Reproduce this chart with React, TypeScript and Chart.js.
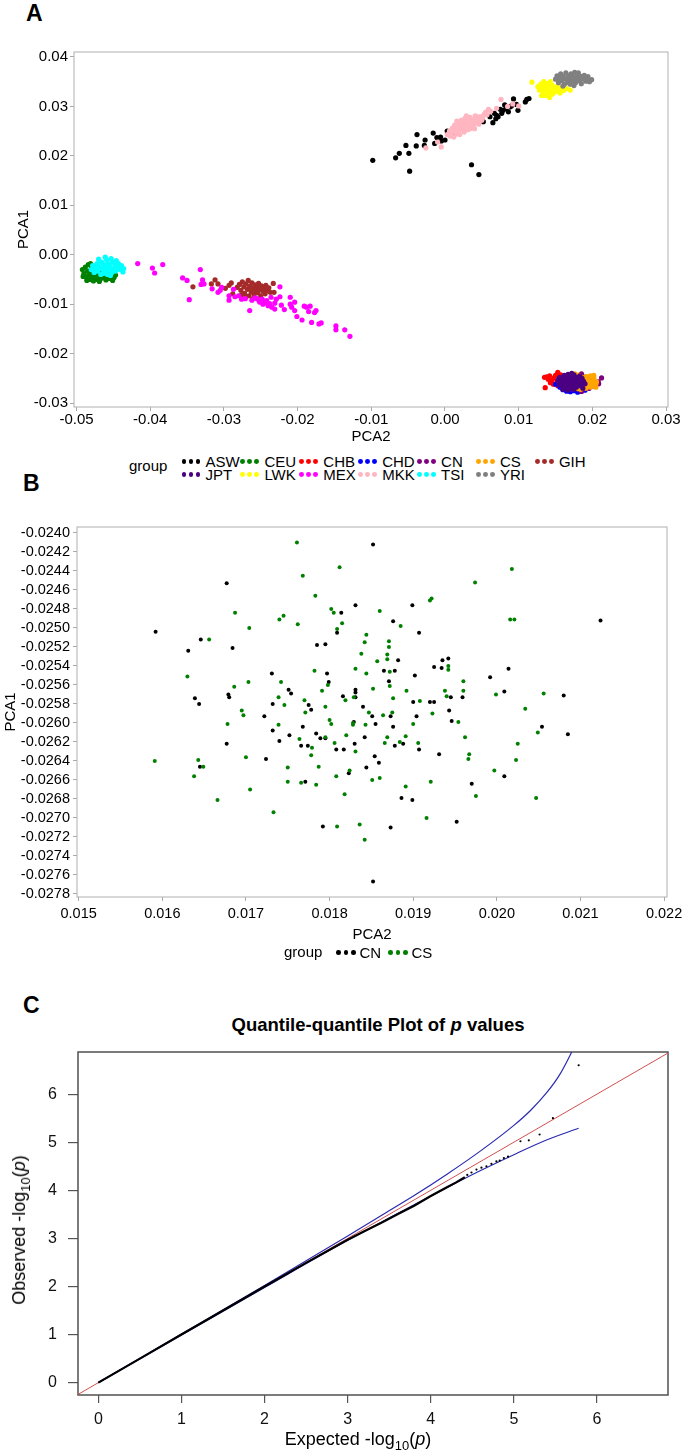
import React, { useEffect, useRef } from 'react';
import { Chart, registerables } from 'chart.js';

Chart.register(...registerables);

const FONT = '"Liberation Sans", Arial, Helvetica, sans-serif';

type Pt = [number, number];

// ---------------- Panel A : PCA of all populations ----------------
const aXTicks = [-0.05, -0.04, -0.03, -0.02, -0.01, 0, 0.01, 0.02, 0.03];
const aYTicks = [-0.03, -0.02, -0.01, 0, 0.01, 0.02, 0.03, 0.04];
const aGroups = ['ASW', 'CEU', 'CHB', 'CHD', 'CN', 'CS', 'GIH', 'JPT', 'LWK', 'MEX', 'MKK', 'TSI', 'YRI'];
const aColors = ['#000000', '#008000', '#ff0000', '#0000ff', '#800080', '#ffa500', '#a52a2a', '#4b0082', '#ffff00', '#ff00ff', '#ffb6c1', '#00ffff', '#808080'];

const aswPts: Pt[] = [
  [-0.0098, 0.0191], [-0.0067, 0.0196], [-0.0062, 0.0205], [-0.0049, 0.0205], [-0.0048, 0.0169], [-0.0053, 0.0221],
  [-0.0039, 0.0220], [-0.0038, 0.0243], [-0.0027, 0.0232], [-0.0028, 0.0221], [-0.0016, 0.0246], [-0.0014, 0.0225],
  [-0.0011, 0.0237], [-0.0006, 0.0238], [0.0000, 0.0232], [-0.0005, 0.0230], [0.0003, 0.0250], [0.0005, 0.0245],
  [0.0036, 0.0182], [0.0046, 0.0162], [0.0011, 0.0242], [0.0052, 0.0269], [0.0065, 0.0267], [0.0067, 0.0286],
  [0.0072, 0.0279], [0.0077, 0.0286], [0.0079, 0.0292], [0.0081, 0.0303], [0.0086, 0.0289], [0.0088, 0.0299],
  [0.0093, 0.0315], [0.0097, 0.0304], [0.0099, 0.0292], [0.0109, 0.0309], [0.0111, 0.0314], [0.0114, 0.0316],
  [0.0070, 0.0282], [0.0075, 0.0294], [0.0061, 0.0279], [0.0083, 0.0296], [0.0090, 0.0301], [0.0069, 0.0275],
];
const ceuPts: Pt[] = [
  [-0.0492, -0.0030], [-0.0490, -0.0038], [-0.0488, -0.0025], [-0.0487, -0.0045], [-0.0485, -0.0033], [-0.0484, -0.0020],
  [-0.0483, -0.0040], [-0.0482, -0.0050], [-0.0480, -0.0028], [-0.0479, -0.0035], [-0.0478, -0.0045], [-0.0476, -0.0023],
  [-0.0475, -0.0040], [-0.0474, -0.0050], [-0.0473, -0.0032], [-0.0471, -0.0044], [-0.0470, -0.0037], [-0.0468, -0.0049],
  [-0.0467, -0.0042], [-0.0465, -0.0035], [-0.0464, -0.0047], [-0.0462, -0.0040], [-0.0460, -0.0051], [-0.0459, -0.0044],
  [-0.0457, -0.0038], [-0.0455, -0.0048], [-0.0453, -0.0042], [-0.0451, -0.0052], [-0.0449, -0.0046], [-0.0447, -0.0041],
  [-0.0491, -0.0044], [-0.0486, -0.0052], [-0.0477, -0.0053], [-0.0469, -0.0054], [-0.0481, -0.0018], [-0.0463, -0.0030],
  [-0.0456, -0.0033],
];
const chbPts: Pt[] = [
  [0.0136, -0.0269], [0.0138, -0.0247], [0.0142, -0.0245], [0.0145, -0.0254], [0.0143, -0.0259], [0.0148, -0.0249],
  [0.0150, -0.0244], [0.0152, -0.0255], [0.0140, -0.0252], [0.0147, -0.0262], [0.0155, -0.0247], [0.0153, -0.0265],
  [0.0158, -0.0252], [0.0160, -0.0259], [0.0157, -0.0243], [0.0153, -0.0238], [0.0162, -0.0246], [0.0165, -0.0251],
  [0.0168, -0.0244], [0.0135, -0.0248],
];
const chdPts: Pt[] = [
  [0.0150, -0.0262], [0.0156, -0.0268], [0.0160, -0.0273], [0.0165, -0.0276], [0.0170, -0.0277], [0.0175, -0.0275],
  [0.0180, -0.0278], [0.0185, -0.0276], [0.0190, -0.0274], [0.0172, -0.0250], [0.0178, -0.0244], [0.0163, -0.0247],
  [0.0158, -0.0258], [0.0184, -0.0256], [0.0168, -0.0262], [0.0176, -0.0266], [0.0188, -0.0262], [0.0193, -0.0270],
  [0.0155, -0.0250], [0.0182, -0.0270],
];
// CN and CS are the same samples that are shown again in panel B
const cnPts: Pt[] = [
  [0.01852, -0.02412], [0.01677, -0.02453], [0.01831, -0.02476], [0.01814, -0.02484], [0.01899, -0.02476], [0.01876, -0.02493],
  [0.01907, -0.02505], [0.01809, -0.02505], [0.02124, -0.02492], [0.01592, -0.02504], [0.01646, -0.02512], [0.01631, -0.02524],
  [0.01684, -0.02521], [0.01785, -0.02518], [0.01795, -0.02517], [0.01882, -0.02534], [0.01935, -0.02534], [0.01942, -0.02532],
  [0.01925, -0.02541], [0.01934, -0.02542], [0.02014, -0.02543], [0.01731, -0.02548], [0.01797, -0.02548], [0.01865, -0.02545],
  [0.01878, -0.02545], [0.01902, -0.02550], [0.01992, -0.02552], [0.01871, -0.02556], [0.01799, -0.02557], [0.01751, -0.02565],
  [0.01754, -0.02569], [0.01831, -0.02565], [0.01831, -0.02568], [0.01831, -0.02573], [0.01816, -0.02572], [0.02009, -0.02567],
  [0.02080, -0.02571], [0.01639, -0.02574], [0.01644, -0.02580], [0.01679, -0.02570], [0.01680, -0.02573], [0.01732, -0.02580],
  [0.01775, -0.02581], [0.01778, -0.02586], [0.01840, -0.02583], [0.01900, -0.02578], [0.01920, -0.02578], [0.01925, -0.02578],
  [0.01945, -0.02573], [0.01959, -0.02573], [0.01943, -0.02587], [0.01946, -0.02598], [0.01722, -0.02593], [0.01851, -0.02593],
  [0.01855, -0.02601], [0.01873, -0.02593], [0.01904, -0.02593], [0.01876, -0.02604], [0.01768, -0.02604], [0.01829, -0.02599],
  [0.02054, -0.02604], [0.02085, -0.02612], [0.01732, -0.02608], [0.01752, -0.02613], [0.01784, -0.02611], [0.01789, -0.02616],
  [0.01795, -0.02616], [0.01842, -0.02615], [0.01740, -0.02619], [0.01677, -0.02622], [0.01766, -0.02624], [0.01774, -0.02624],
  [0.01808, -0.02628], [0.01817, -0.02628], [0.01830, -0.02622], [0.01878, -0.02624], [0.01888, -0.02622], [0.01907, -0.02628],
  [0.01931, -0.02633], [0.01854, -0.02635], [0.01724, -0.02638], [0.01645, -0.02646], [0.01771, -0.02662], [0.01823, -0.02653],
  [0.01844, -0.02647], [0.01859, -0.02642], [0.01970, -0.02664], [0.02009, -0.02656], [0.01886, -0.02679], [0.01899, -0.02681],
  [0.01792, -0.02709], [0.01873, -0.02710], [0.01952, -0.02704], [0.01852, -0.02767],
];
const csPts: Pt[] = [
  [0.01761, -0.02410], [0.01812, -0.02436], [0.02018, -0.02438], [0.01768, -0.02445], [0.01974, -0.02452], [0.01783, -0.02466],
  [0.01687, -0.02484], [0.01740, -0.02491], [0.01745, -0.02487], [0.01762, -0.02496], [0.01704, -0.02500], [0.01802, -0.02480],
  [0.01805, -0.02484], [0.01815, -0.02495], [0.01809, -0.02501], [0.01860, -0.02482], [0.01920, -0.02471], [0.01922, -0.02469],
  [0.01885, -0.02498], [0.01844, -0.02507], [0.01842, -0.02515], [0.02016, -0.02491], [0.02021, -0.02491], [0.01656, -0.02512],
  [0.01871, -0.02514], [0.01871, -0.02520], [0.01838, -0.02527], [0.01869, -0.02528], [0.01857, -0.02535], [0.01869, -0.02533],
  [0.01630, -0.02551], [0.01782, -0.02545], [0.01831, -0.02543], [0.01844, -0.02548], [0.01872, -0.02546], [0.01942, -0.02540],
  [0.01942, -0.02544], [0.01686, -0.02562], [0.01703, -0.02557], [0.01742, -0.02557], [0.01791, -0.02566], [0.01798, -0.02560],
  [0.01852, -0.02564], [0.01872, -0.02561], [0.01892, -0.02566], [0.01960, -0.02556], [0.01938, -0.02566], [0.01940, -0.02572],
  [0.01960, -0.02566], [0.01999, -0.02570], [0.02056, -0.02569], [0.01739, -0.02573], [0.01770, -0.02576], [0.01819, -0.02576],
  [0.01829, -0.02573], [0.01876, -0.02574], [0.01908, -0.02577], [0.01923, -0.02590], [0.02034, -0.02585], [0.01695, -0.02587],
  [0.01697, -0.02592], [0.01746, -0.02581], [0.01771, -0.02589], [0.01795, -0.02583], [0.01847, -0.02589], [0.01864, -0.02592],
  [0.01875, -0.02589], [0.01800, -0.02597], [0.01802, -0.02601], [0.01828, -0.02600], [0.01828, -0.02602], [0.01843, -0.02602],
  [0.01900, -0.02601], [0.01954, -0.02599], [0.01678, -0.02601], [0.01739, -0.02602], [0.02049, -0.02610], [0.01962, -0.02615],
  [0.01764, -0.02617], [0.01795, -0.02615], [0.01820, -0.02613], [0.01869, -0.02615], [0.01884, -0.02620], [0.01891, -0.02614],
  [0.01906, -0.02621], [0.01806, -0.02621], [0.01779, -0.02626], [0.01831, -0.02630], [0.01866, -0.02621], [0.02025, -0.02622],
  [0.01967, -0.02633], [0.02023, -0.02639], [0.01966, -0.02638], [0.01591, -0.02640], [0.01643, -0.02639], [0.01649, -0.02646],
  [0.01638, -0.02656], [0.01700, -0.02636], [0.01750, -0.02647], [0.01750, -0.02662], [0.01766, -0.02663], [0.01778, -0.02634],
  [0.01787, -0.02646], [0.01784, -0.02665], [0.01808, -0.02656], [0.01824, -0.02650], [0.01818, -0.02675], [0.01809, -0.02709],
  [0.01836, -0.02707], [0.01842, -0.02723], [0.01851, -0.02660], [0.01860, -0.02658], [0.01891, -0.02667], [0.01916, -0.02700],
  [0.01921, -0.02662], [0.01975, -0.02677], [0.01997, -0.02650], [0.02047, -0.02679], [0.01666, -0.02681], [0.01705, -0.02670],
  [0.01733, -0.02694],
];
const gihPts: Pt[] = [
  [-0.0282, -0.0066], [-0.0279, -0.0060], [-0.0277, -0.0072], [-0.0275, -0.0055], [-0.0273, -0.0065], [-0.0272, -0.0078],
  [-0.0270, -0.0059], [-0.0268, -0.0070], [-0.0267, -0.0052], [-0.0266, -0.0083], [-0.0265, -0.0064], [-0.0263, -0.0075],
  [-0.0262, -0.0057], [-0.0261, -0.0068], [-0.0259, -0.0080], [-0.0258, -0.0061], [-0.0257, -0.0072], [-0.0255, -0.0066],
  [-0.0254, -0.0077], [-0.0253, -0.0058], [-0.0251, -0.0070], [-0.0250, -0.0083], [-0.0249, -0.0063], [-0.0247, -0.0074],
  [-0.0246, -0.0068], [-0.0244, -0.0079], [-0.0243, -0.0062], [-0.0241, -0.0072], [-0.0239, -0.0067], [-0.0237, -0.0076],
  [-0.0260, -0.0088], [-0.0270, -0.0085], [-0.0276, -0.0081], [-0.0342, -0.0065], [-0.0317, -0.0059], [-0.0312, -0.0051],
  [-0.0308, -0.0059], [-0.0293, -0.0062], [-0.0233, -0.0058], [-0.0232, -0.0076], [-0.0288, -0.0079], [-0.0298, -0.0068],
  [-0.0290, -0.0057],
];
const jptPts: Pt[] = [
  [0.0153, -0.0255], [0.0155, -0.0262], [0.0156, -0.0248], [0.0158, -0.0256], [0.0159, -0.0266], [0.0160, -0.0251],
  [0.0161, -0.0260], [0.0162, -0.0244], [0.0163, -0.0255], [0.0164, -0.0268], [0.0165, -0.0249], [0.0166, -0.0259],
  [0.0167, -0.0242], [0.0168, -0.0264], [0.0169, -0.0253], [0.0170, -0.0270], [0.0171, -0.0247], [0.0172, -0.0258],
  [0.0173, -0.0265], [0.0174, -0.0251], [0.0175, -0.0243], [0.0176, -0.0261], [0.0177, -0.0255], [0.0178, -0.0268],
  [0.0179, -0.0248], [0.0180, -0.0259], [0.0181, -0.0253], [0.0182, -0.0265], [0.0183, -0.0245], [0.0184, -0.0257],
  [0.0185, -0.0262], [0.0186, -0.0250], [0.0187, -0.0270], [0.0188, -0.0256], [0.0190, -0.0261], [0.0167, -0.0274],
  [0.0175, -0.0272], [0.0160, -0.0272], [0.0172, -0.0240],
];
const lwkPts: Pt[] = [
  [0.0118, 0.0349], [0.0126, 0.0340], [0.0128, 0.0333], [0.0130, 0.0345], [0.0132, 0.0337], [0.0133, 0.0328],
  [0.0135, 0.0342], [0.0136, 0.0322], [0.0137, 0.0334], [0.0139, 0.0346], [0.0140, 0.0327], [0.0141, 0.0339],
  [0.0142, 0.0318], [0.0144, 0.0332], [0.0145, 0.0343], [0.0146, 0.0325], [0.0148, 0.0337], [0.0150, 0.0330],
  [0.0152, 0.0341], [0.0154, 0.0334], [0.0156, 0.0327], [0.0158, 0.0338], [0.0161, 0.0332], [0.0165, 0.0336],
  [0.0170, 0.0333], [0.0134, 0.0350], [0.0143, 0.0350], [0.0131, 0.0322],
];
const mexPts: Pt[] = [
  [-0.0417, -0.0018], [-0.0397, -0.0027], [-0.0394, -0.0037], [-0.0383, -0.0020], [-0.0356, -0.0047], [-0.0350, -0.0052],
  [-0.0347, -0.0091], [-0.0332, -0.0030], [-0.0329, -0.0051], [-0.0327, -0.0059], [-0.0331, -0.0060], [-0.0316, -0.0069],
  [-0.0308, -0.0076], [-0.0303, -0.0066], [-0.0293, -0.0083], [-0.0293, -0.0092], [-0.0285, -0.0085], [-0.0271, -0.0089],
  [-0.0265, -0.0113], [-0.0255, -0.0089], [-0.0251, -0.0096], [-0.0247, -0.0100], [-0.0240, -0.0103], [-0.0242, -0.0093],
  [-0.0235, -0.0106], [-0.0231, -0.0098], [-0.0231, -0.0110], [-0.0224, -0.0065], [-0.0224, -0.0085], [-0.0222, -0.0102],
  [-0.0218, -0.0111], [-0.0210, -0.0086], [-0.0210, -0.0100], [-0.0208, -0.0106], [-0.0204, -0.0096], [-0.0204, -0.0113],
  [-0.0201, -0.0125], [-0.0194, -0.0132], [-0.0191, -0.0104], [-0.0188, -0.0106], [-0.0185, -0.0115], [-0.0183, -0.0104],
  [-0.0181, -0.0137], [-0.0177, -0.0117], [-0.0175, -0.0113], [-0.0171, -0.0140], [-0.0168, -0.0138], [-0.0148, -0.0144],
  [-0.0148, -0.0152], [-0.0136, -0.0152], [-0.0129, -0.0165], [-0.0305, -0.0072], [-0.0287, -0.0070], [-0.0280, -0.0083],
  [-0.0276, -0.0090], [-0.0262, -0.0092], [-0.0258, -0.0087], [-0.0252, -0.0094], [-0.0248, -0.0090], [-0.0244, -0.0097],
  [-0.0238, -0.0099], [-0.0236, -0.0086], [-0.0229, -0.0090],
];
const mkkPts: Pt[] = [
  [0.0003, 0.0243], [0.0006, 0.0250], [0.0008, 0.0245], [0.0010, 0.0256], [0.0011, 0.0249], [0.0013, 0.0262],
  [0.0014, 0.0253], [0.0015, 0.0244], [0.0017, 0.0258], [0.0018, 0.0267], [0.0019, 0.0250], [0.0021, 0.0262],
  [0.0022, 0.0272], [0.0023, 0.0255], [0.0025, 0.0266], [0.0026, 0.0248], [0.0027, 0.0276], [0.0028, 0.0259],
  [0.0030, 0.0270], [0.0031, 0.0253], [0.0032, 0.0263], [0.0034, 0.0278], [0.0035, 0.0258], [0.0036, 0.0268],
  [0.0038, 0.0273], [0.0039, 0.0262], [0.0041, 0.0281], [0.0042, 0.0267], [0.0044, 0.0275], [0.0046, 0.0264],
  [0.0048, 0.0279], [0.0050, 0.0272], [0.0053, 0.0284], [0.0016, 0.0270], [0.0029, 0.0281], [0.0020, 0.0243],
  [0.0012, 0.0238], [0.0040, 0.0255], [-0.0026, 0.0216], [-0.0005, 0.0218], [0.0076, 0.0314], [0.0059, 0.0294],
  [0.0100, 0.0301], [0.0085, 0.0300], [0.0062, 0.0290], [0.0070, 0.0296], [-0.0010, 0.0228], [0.0092, 0.0305],
  [0.0009, 0.0252], [0.0016, 0.0247], [0.0020, 0.0256], [0.0024, 0.0260], [0.0027, 0.0252], [0.0029, 0.0265],
  [0.0033, 0.0272], [0.0037, 0.0262], [0.0043, 0.0271], [0.0045, 0.0279], [0.0051, 0.0277], [0.0055, 0.0288],
  [0.0034, 0.0255], [0.0024, 0.0270], [0.0019, 0.0264], [0.0047, 0.0270], [0.0057, 0.0283], [0.0007, 0.0240],
];
const tsiPts: Pt[] = [
  [-0.0480, -0.0030], [-0.0478, -0.0022], [-0.0476, -0.0036], [-0.0474, -0.0027], [-0.0472, -0.0018], [-0.0471, -0.0033],
  [-0.0469, -0.0024], [-0.0467, -0.0040], [-0.0466, -0.0015], [-0.0465, -0.0029], [-0.0463, -0.0020], [-0.0462, -0.0035],
  [-0.0460, -0.0026], [-0.0459, -0.0011], [-0.0458, -0.0040], [-0.0457, -0.0018], [-0.0456, -0.0031], [-0.0455, -0.0023],
  [-0.0453, -0.0008], [-0.0452, -0.0036], [-0.0451, -0.0015], [-0.0450, -0.0028], [-0.0448, -0.0020], [-0.0447, -0.0033],
  [-0.0446, -0.0012], [-0.0445, -0.0025], [-0.0443, -0.0018], [-0.0441, -0.0030], [-0.0439, -0.0022], [-0.0437, -0.0035],
  [-0.0436, -0.0028], [-0.0470, -0.0009], [-0.0461, -0.0005], [-0.0454, -0.0042], [-0.0464, -0.0038],
];
const yriPts: Pt[] = [
  [0.0150, 0.0355], [0.0152, 0.0362], [0.0154, 0.0348], [0.0155, 0.0358], [0.0157, 0.0366], [0.0158, 0.0352],
  [0.0160, 0.0361], [0.0162, 0.0345], [0.0163, 0.0356], [0.0164, 0.0368], [0.0166, 0.0350], [0.0167, 0.0362],
  [0.0169, 0.0356], [0.0170, 0.0345], [0.0171, 0.0366], [0.0173, 0.0352], [0.0174, 0.0360], [0.0176, 0.0369],
  [0.0177, 0.0348], [0.0178, 0.0357], [0.0180, 0.0364], [0.0182, 0.0352], [0.0183, 0.0360], [0.0185, 0.0346],
  [0.0187, 0.0356], [0.0189, 0.0363], [0.0191, 0.0351], [0.0193, 0.0357], [0.0196, 0.0350], [0.0199, 0.0354],
  [0.0160, 0.0341], [0.0175, 0.0342], [0.0165, 0.0357], [0.0172, 0.0364], [0.0179, 0.0352], [0.0186, 0.0361],
  [0.0168, 0.0348], [0.0158, 0.0359], [0.0181, 0.0368], [0.0194, 0.0360],
];
const aSeries = [aswPts, ceuPts, chbPts, chdPts, cnPts, csPts, gihPts, jptPts, lwkPts, mexPts, mkkPts, tsiPts, yriPts];

// ---------------- Panel B : CN vs CS ----------------
const bXTicks = [0.015, 0.016, 0.017, 0.018, 0.019, 0.02, 0.021, 0.022];
const bYTicks = [-0.0278, -0.0276, -0.0274, -0.0272, -0.027, -0.0268, -0.0266, -0.0264, -0.0262, -0.026,
  -0.0258, -0.0256, -0.0254, -0.0252, -0.025, -0.0248, -0.0246, -0.0244, -0.0242, -0.024];
const bGroups = ['CN', 'CS'];
const bColors = ['#000000', '#008000'];
const bSeries = [cnPts, csPts];

// ---------------- Panel C : QQ plot ----------------
const cTicks = [0, 1, 2, 3, 4, 5, 6];
const qqRefX = [-0.3, 7];
const qqRefY = [-0.3, 7];
const qqUpperX = [0, 1, 2, 3, 3.4, 3.8, 4.2, 4.6, 5.0, 5.2, 5.4, 5.55, 5.68, 5.75];
const qqUpperY = [0, 1.01, 2.02, 3.05, 3.47, 3.89, 4.34, 4.82, 5.35, 5.66, 6.04, 6.4, 6.82, 7.08];
const qqLowerX = [0, 1, 2, 3, 3.4, 3.8, 4.2, 4.6, 5.0, 5.4, 5.78];
const qqLowerY = [0, 0.99, 1.98, 2.96, 3.33, 3.7, 4.06, 4.41, 4.74, 5.05, 5.29];
const qqObsX = [0, 0.5, 1, 1.5, 2, 2.5, 3, 3.2, 3.4, 3.6, 3.8, 4.0, 4.2, 4.3, 4.41];
const qqObsY = [0, 0.5, 1, 1.5, 2, 2.49, 2.97, 3.15, 3.32, 3.5, 3.68, 3.88, 4.07, 4.16, 4.27];
const qqTailX = [4.44, 4.49, 4.55, 4.61, 4.67, 4.73, 4.79, 4.83, 4.88, 4.93, 5.08, 5.18, 5.31, 5.47, 5.78];
const qqTailY = [4.32, 4.37, 4.43, 4.47, 4.5, 4.55, 4.6, 4.62, 4.67, 4.7, 5.02, 5.04, 5.16, 5.5, 6.6];

// ---------------- helpers ----------------
const boxPlugin = (color: string, width: number) => ({
  id: 'frameBox',
  beforeDatasetsDraw(chart: any) {
    const { ctx, chartArea: a } = chart;
    ctx.save();
    ctx.strokeStyle = color;
    ctx.lineWidth = width;
    ctx.strokeRect(a.left, a.top, a.right - a.left, a.bottom - a.top);
    ctx.restore();
  },
});

function axis(o: any) {
  return {
    type: 'linear',
    position: o.pos,
    min: o.min,
    max: o.max,
    bounds: 'data',
    afterBuildTicks: (s: any) => {
      s.ticks = o.ticks.map((v: number) => ({ value: v }));
    },
    afterFit: (s: any) => {
      if (o.pos === 'bottom') {
        s.height = o.size;
        s.paddingLeft = 0;
        s.paddingRight = 0;
      } else {
        s.width = o.size;
        s.paddingTop = 0;
        s.paddingBottom = 0;
      }
    },
    grid: {
      display: true,
      drawOnChartArea: false,
      drawTicks: true,
      tickLength: o.tickLen,
      color: o.lineColor,
      lineWidth: o.tickWidth,
    },
    border: { display: false },
    ticks: {
      autoSkip: false,
      maxRotation: 0,
      minRotation: 0,
      padding: o.pad,
      color: o.labelColor,
      font: { family: FONT, size: o.fontSize },
      callback: (v: any) => o.fmt(Number(v)),
    },
    title: o.title
      ? { display: true, text: o.title, color: '#000', font: { family: FONT, size: o.titleSize }, padding: o.titlePad }
      : { display: false },
  };
}

const toXY = (pts: Pt[]) => pts.map(([x, y]) => ({ x, y }));
const zipXY = (xs: number[], ys: number[]) => xs.map((x, i) => ({ x, y: ys[i] }));

const baseOptions = (pad: any) => ({
  responsive: false,
  animation: false,
  events: [],
  layout: { padding: pad },
  plugins: { legend: { display: false }, tooltip: { enabled: false }, title: { display: false } },
});

function configA() {
  return {
    type: 'scatter',
    data: {
      datasets: aSeries.map((pts, i) => ({
        label: aGroups[i],
        data: toXY(pts),
        pointBackgroundColor: aColors[i],
        backgroundColor: aColors[i],
        pointBorderWidth: 0,
        pointRadius: 2.6,
        pointHoverRadius: 2.6,
        order: aSeries.length - i,
      })),
    },
    options: {
      ...baseOptions({ top: 12, right: 17, left: 0, bottom: 0 }),
      scales: {
        x: axis({ pos: 'bottom', min: -0.05034, max: 0.03026, ticks: aXTicks, size: 43, tickLen: 4, lineColor: '#a8a8a8', tickWidth: 1, pad: 0, labelColor: '#000', fontSize: 15, fmt: (v: number) => v.toFixed(2), title: 'PCA2', titleSize: 15, titlePad: { top: 0, bottom: 4 } }),
        y: axis({ pos: 'left', min: -0.0308, max: 0.0410, ticks: aYTicks, size: 74, tickLen: 4, lineColor: '#a8a8a8', tickWidth: 1, pad: 2, labelColor: '#000', fontSize: 15, fmt: (v: number) => v.toFixed(2), title: 'PCA1', titleSize: 15, titlePad: { top: 15, bottom: 0 } }),
      },
    },
    plugins: [boxPlugin('#b0b0b0', 1)],
  };
}

function configB() {
  return {
    type: 'scatter',
    data: {
      datasets: bSeries.map((pts, i) => ({
        label: bGroups[i],
        data: toXY(pts),
        pointBackgroundColor: bColors[i],
        backgroundColor: bColors[i],
        pointBorderWidth: 0,
        pointRadius: 2.0,
        pointHoverRadius: 2.0,
        order: bSeries.length - i,
      })),
    },
    options: {
      ...baseOptions({ top: 12, right: 18, left: 0, bottom: 0 }),
      scales: {
        x: axis({ pos: 'bottom', min: 0.01498, max: 0.022035, ticks: bXTicks, size: 48, tickLen: 4, lineColor: '#a8a8a8', tickWidth: 1, pad: 4, labelColor: '#000', fontSize: 14.5, fmt: (v: number) => v.toFixed(3), title: 'PCA2', titleSize: 15, titlePad: { top: 0, bottom: 1.5 } }),
        y: axis({ pos: 'left', min: -0.027832, max: -0.023937, ticks: bYTicks, size: 77, tickLen: 4, lineColor: '#a8a8a8', tickWidth: 1, pad: 3, labelColor: '#000', fontSize: 14.5, fmt: (v: number) => v.toFixed(4), title: 'PCA1', titleSize: 15, titlePad: { top: 2, bottom: 0 } }),
      },
    },
    plugins: [boxPlugin('#b0b0b0', 1)],
  };
}

function configC() {
  const line = { showLine: true, pointRadius: 0, pointHoverRadius: 0, fill: false };
  return {
    type: 'scatter',
    data: {
      datasets: [
        { ...line, label: 'expected', data: zipXY(qqRefX, qqRefY), borderColor: '#d05050', borderWidth: 1, order: 3 },
        { ...line, label: 'upper', data: zipXY(qqUpperX, qqUpperY), borderColor: '#2a2ab0', borderWidth: 1.2, cubicInterpolationMode: 'monotone', order: 2 },
        { ...line, label: 'lower', data: zipXY(qqLowerX, qqLowerY), borderColor: '#2a2ab0', borderWidth: 1.2, cubicInterpolationMode: 'monotone', order: 2 },
        { ...line, label: 'observed', data: zipXY(qqObsX, qqObsY), borderColor: '#000', borderWidth: 2.2, order: 0 },
        { label: 'tail', data: zipXY(qqTailX, qqTailY), pointBackgroundColor: '#000', backgroundColor: '#000', pointBorderWidth: 0, pointRadius: 1.1, pointHoverRadius: 1.1, order: 0 },
      ],
    },
    options: {
      ...baseOptions({ top: 12, right: 17, left: 0, bottom: 0 }),
      scales: {
        x: axis({ pos: 'bottom', min: -0.245, max: 6.855, ticks: cTicks, size: 45, tickLen: 8, lineColor: '#555', tickWidth: 1.2, pad: 7, labelColor: '#111', fontSize: 16, fmt: (v: number) => String(Math.round(v)) }),
        y: axis({ pos: 'left', min: -0.257, max: 6.876, ticks: cTicks, size: 78, tickLen: 10, lineColor: '#555', tickWidth: 1.2, pad: 11, labelColor: '#111', fontSize: 16, fmt: (v: number) => String(Math.round(v)) }),
      },
    },
    plugins: [boxPlugin('#505050', 1.5)],
  };
}

function ChartCanvas({ top, height, make }: { top: number; height: number; make: () => any }) {
  const ref = useRef<HTMLCanvasElement | null>(null);
  useEffect(() => {
    const chart = new Chart(ref.current as HTMLCanvasElement, make());
    return () => chart.destroy();
  }, []);
  return (
    <canvas
      ref={ref}
      width={685}
      height={height}
      style={{ position: 'absolute', left: 0, top, width: 685, height, display: 'block' }}
    />
  );
}

const abs = (left: number, top: number, extra: any = {}) => ({ position: 'absolute' as const, left, top, whiteSpace: 'nowrap' as const, ...extra });

function PanelLabel({ text, left, top }: { text: string; left: number; top: number }) {
  return <div style={abs(left, top, { fontSize: 23, lineHeight: '23px', fontWeight: 'bold' })}>{text}</div>;
}

function Dots({ x, cy, color, d, step }: { x: number; cy: number; color: string; d: number; step: number }) {
  return (
    <>
      {[0, 1, 2].map((k) => (
        <span key={k} style={abs(x + k * step, cy - d / 2, { width: d, height: d, borderRadius: '50%', background: color })} />
      ))}
    </>
  );
}

function LegendA() {
  return (
    <>
      <div style={abs(129, 458.3, { fontSize: 15, lineHeight: '15px' })}>group</div>
      {aGroups.map((g, i) => {
        const col = i % 7;
        const row = Math.floor(i / 7);
        const x = 181.5 + col * 58.9;
        const cy = row === 0 ? 461.7 : 474.5;
        return (
          <React.Fragment key={g}>
            <Dots x={x} cy={cy} color={aColors[i]} d={4.8} step={7} />
            <div style={abs(x + 24, cy - 7.3, { fontSize: 15, lineHeight: '15px' })}>{g}</div>
          </React.Fragment>
        );
      })}
    </>
  );
}

function LegendB() {
  const xs = [336, 388];
  return (
    <>
      <div style={abs(284, 943.8, { fontSize: 15, lineHeight: '15px' })}>group</div>
      {bGroups.map((g, i) => (
        <React.Fragment key={g}>
          <Dots x={xs[i]} cy={952.3} color={bColors[i]} d={4.6} step={7.5} />
          <div style={abs(xs[i] + 23.5, 945, { fontSize: 15, lineHeight: '15px' })}>{g}</div>
        </React.Fragment>
      ))}
    </>
  );
}

const subStyle = { fontSize: '0.72em', verticalAlign: '-0.35em', lineHeight: 0 };

export default function App() {
  return (
    <div
      style={{
        position: 'absolute', left: 0, top: 0, width: 685, height: 1456, background: '#fff',
        overflow: 'hidden', fontFamily: FONT, color: '#000',
      }}
    >
      <PanelLabel text="A" left={26} top={2} />
      <ChartCanvas top={40} height={410} make={configA} />
      <LegendA />

      <PanelLabel text="B" left={23} top={472} />
      <ChartCanvas top={515} height={430} make={configB} />
      <LegendB />

      <PanelLabel text="C" left={23} top={994} />
      <div style={abs(378, 1016, { fontSize: 18.5, lineHeight: '18.5px', fontWeight: 'bold', transform: 'translateX(-50%)' })}>
        Quantile-quantile Plot of <i>p</i> values
      </div>
      <ChartCanvas top={1040} height={400} make={configC} />
      <div style={abs(358, 1430, { fontSize: 18, lineHeight: '18px', transform: 'translateX(-50%)' })}>
        Expected -log<span style={subStyle}>10</span>(<i>p</i>)
      </div>
      <div style={abs(19, 1230, { fontSize: 18, lineHeight: '18px', transform: 'translate(-50%, -50%) rotate(-90deg)' })}>
        Observed -log<span style={subStyle}>10</span>(<i>p</i>)
      </div>
    </div>
  );
}
